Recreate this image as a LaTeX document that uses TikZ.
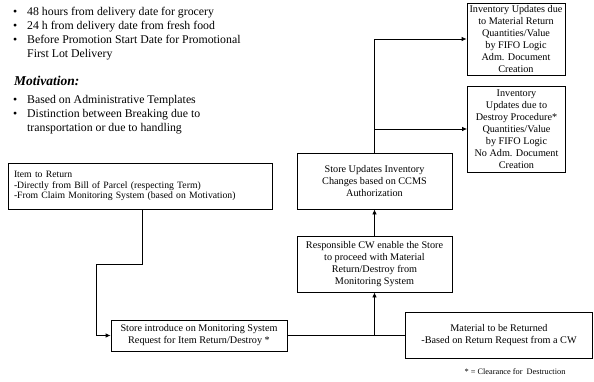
\documentclass[tikz,border=0pt]{standalone}
\usepackage{fontspec}
\setmainfont{Liberation Serif}
\usetikzlibrary{arrows.meta}
\begin{document}
\begin{tikzpicture}[x=1pt,y=-1pt,
  box/.style={draw, line width=0.8pt, rectangle, inner sep=1pt, align=center,
    font=\fontsize{10.2}{12}\selectfont},
  link/.style={line width=0.8pt},
  arr/.style={line width=0.8pt, -{Latex[length=5pt,width=4.5pt]}},
  bul/.style={anchor=base west, inner sep=0pt, font=\fontsize{11.8}{14}\selectfont},
]
\useasboundingbox (0,0) rectangle (594,381);

% notes in the upper left corner
\foreach \y/\t [count=\i] in {15/48 hours from delivery date for grocery,
    29/24 h from delivery date from fresh food,
    43/Before Promotion Start Date for Promotional} {
  \node[bul] (bu\i) at (13,\y) {•};
  \node[bul] (bt\i) at (27,\y) {\t};
}
\node[bul] (bt4) at (27,57) {First Lot Delivery};
\node[bul, font=\fontsize{13.5}{15}\selectfont\bfseries\itshape] (mot) at (14,85) {Motivation:};
\node[bul] (bu5) at (13,103) {•};
\node[bul] (bt5) at (27,103) {Based on Administrative Templates};
\node[bul] (bu6) at (13,117) {•};
\node[bul] (bt6) at (27,117) {Distinction between Breaking due to};
\node[bul] (bt7) at (27,131) {transportation or due to handling};

% process boxes
\node[box, minimum width=98, minimum height=72] (ret) at (516,39)
  {Inventory Updates due\\to Material Return\\Quantities/Value\\by FIFO Logic\\Adm. Document\\Creation};
\node[box, minimum width=98, minimum height=86] (des) at (516.5,129)
  {Inventory\\Updates due to\\Destroy Procedure*\\Quantities/Value\\by FIFO Logic\\No Adm. Document\\Creation};
\node[box, minimum width=155, minimum height=56] (upd) at (374.5,181)
  {Store Updates Inventory\\Changes based on CCMS\\Authorization};
\node[box, minimum width=155, minimum height=56] (cw) at (374.5,264)
  {Responsible CW enable the Store\\to proceed with Material\\Return/Destroy from\\Monitoring System};
\node[box, minimum width=187, minimum height=46] (mat) at (499,335)
  {Material to be Returned\\-Based on Return Request from a CW};
\node[box, minimum width=176, minimum height=31] (req) at (199,335.5)
  {Store introduce on Monitoring System\\Request for Item Return/Destroy *};
\node[box, minimum width=264, minimum height=46, align=left, text width=252,
      font=\fontsize{9.7}{10.5}\selectfont] (itm) at (140,186)
  {Item to Return\\-Directly from Bill of Parcel (respecting Term)\\-From Claim Monitoring System (based on Motivation)};

\node[font=\fontsize{8.3}{9}\selectfont, inner sep=0pt] (foot) at (515,372)
  {* = Clearance for\ \ Destruction};

% connectors
\coordinate (i1) at (142,264);
\coordinate (i2) at (96,264);
\coordinate (i3) at (96,335.5);
\draw[arr] (itm.south -| i1) -- (i1) -- (i2) -- (i3) -- (req.west);

\draw[link] (req.east) -- (mat.west |- req.east);
\coordinate (j1) at (374.5,335.5);
\draw[arr] (j1) -- (cw.south);
\draw[arr] (cw.north) -- (upd.south);

\coordinate (t1) at (374,39);
\coordinate (t2) at (374,129);
\draw[arr] (upd.north -| t1) -- (t1) -- (ret.west);
\draw[arr] (t2) -- (des.west);
\end{tikzpicture}
\end{document}
